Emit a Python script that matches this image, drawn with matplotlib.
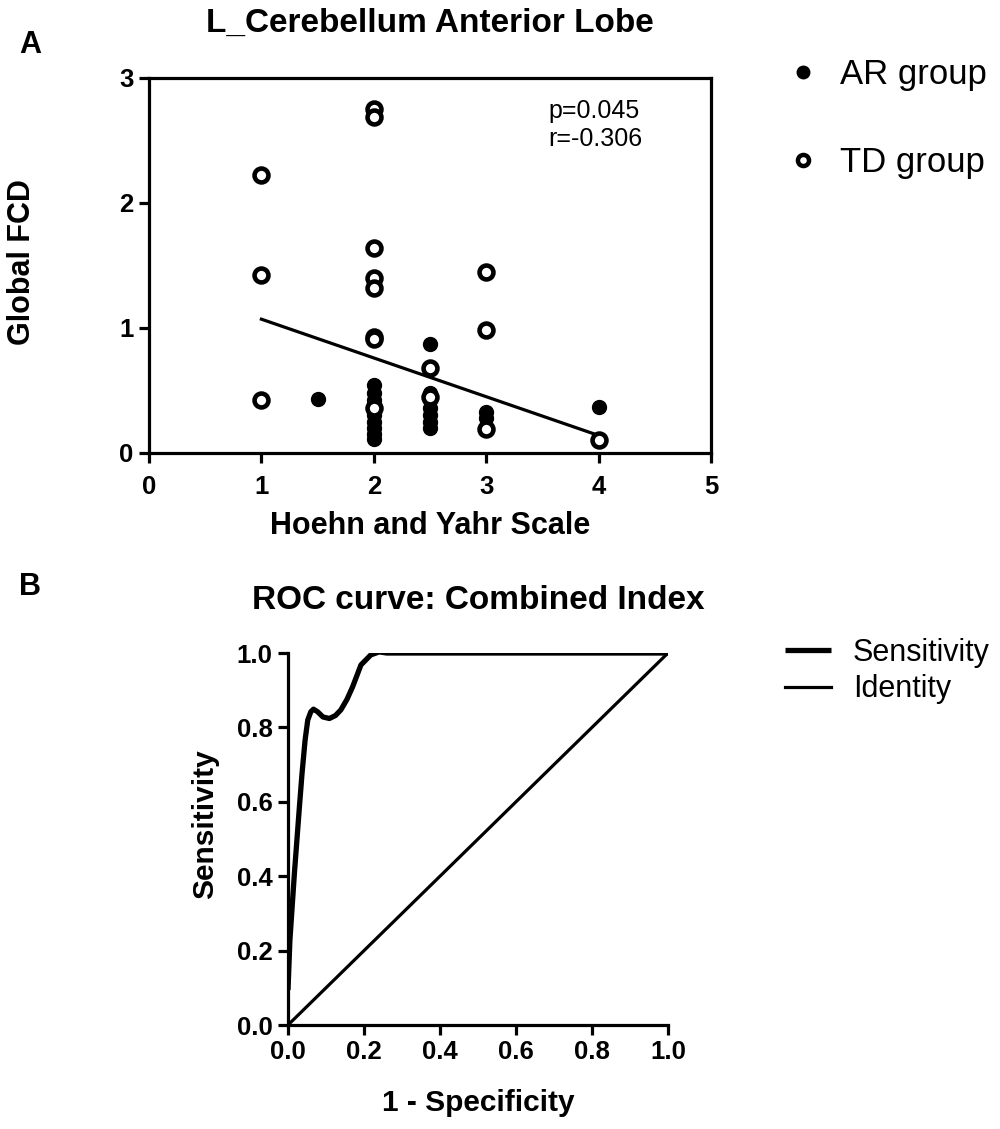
import numpy as np
import matplotlib
matplotlib.use("Agg")
import matplotlib.pyplot as plt
from matplotlib.lines import Line2D

plt.rcParams['font.family'] = ['Liberation Sans', 'DejaVu Sans']

# panel A data: Hoehn and Yahr stage vs global FCD
ar_hy = [1.5, 2, 2, 2, 2, 2, 2, 2, 2, 2,
         2.5, 2.5, 2.5, 2.5, 2.5, 2.5, 2.5, 3, 3, 4]
ar_fcd = [0.43, 0.54, 0.48, 0.42, 0.38, 0.30, 0.25, 0.20, 0.15, 0.11,
          0.87, 0.48, 0.42, 0.36, 0.30, 0.25, 0.20, 0.33, 0.28, 0.37]
td_hy = [1, 1, 1, 2, 2, 2, 2, 2, 2, 2, 2, 2.5, 2.5, 3, 3, 3, 4]
td_fcd = [2.22, 1.42, 0.42, 2.75, 2.69, 1.64, 1.40, 1.32, 0.93, 0.91, 0.36,
          0.68, 0.45, 1.45, 0.98, 0.19, 0.10]
fit_slope = -0.31
fit_intercept = 1.38
fit_range = [1, 4]
p_text = "p=0.045"
r_text = "r=-0.306"

# panel B data: ROC curve
fpr = [0.0, 0.005, 0.017, 0.030, 0.037, 0.045, 0.052, 0.060, 0.067, 0.078,
       0.092, 0.109, 0.125, 0.139, 0.155, 0.170, 0.192, 0.218, 0.240, 0.26,
       0.30, 1.0]
sens = [0.094, 0.228, 0.41, 0.586, 0.677, 0.766, 0.82, 0.842, 0.849, 0.842,
        0.828, 0.824, 0.832, 0.847, 0.875, 0.909, 0.968, 0.995, 1.003, 1.0,
        1.0, 1.0]
identity = [0.0, 1.0]
roc_ticks = [0.0, 0.2, 0.4, 0.6, 0.8, 1.0]

fig = plt.figure(figsize=(10, 11.29), dpi=100)

# ---- panel A
ax = fig.add_axes([0.149, 0.5988, 0.562, 0.3322])
ax.plot(ar_hy, ar_fcd, 'o', color='black', ms=10, zorder=3)
ax.plot(td_hy, td_fcd, 'o', mfc='white', mec='black', mew=3.3, ms=10, zorder=4)
xf = np.array(fit_range)
ax.plot(xf, fit_intercept + fit_slope * xf, color='black', lw=2.3, zorder=2)
ax.set_xlim(0, 5)
ax.set_ylim(0, 3)
ax.set_xticks([0, 1, 2, 3, 4, 5])
ax.set_yticks([0, 1, 2, 3])
for s in ax.spines.values():
    s.set_linewidth(2.3)
ax.tick_params(direction='out', length=7, width=2.3, labelsize=18.5)
ax.tick_params(axis='x', pad=9)
ax.tick_params(axis='y', pad=4)
for lab in ax.get_xticklabels() + ax.get_yticklabels():
    lab.set_fontweight('bold')
ax.set_xlabel("Hoehn and Yahr Scale", fontsize=22, fontweight='bold')
ax.xaxis.set_label_coords(0.5, -0.155)
ax.set_ylabel("Global FCD", fontsize=22, fontweight='bold')
ax.yaxis.set_label_coords(-0.199, 0.51)
ax.set_title("L_Cerebellum Anterior Lobe", fontsize=24, fontweight='bold', pad=33)
ax.text(0.71, 0.875, p_text + "\n" + r_text, transform=ax.transAxes,
        fontsize=18, va='center', ha='left', linespacing=1.2)
handles = [Line2D([], [], ls='', marker='o', color='black', ms=9),
           Line2D([], [], ls='', marker='o', mfc='white', mec='black', mew=3.2, ms=8)]
fig.legend(handles, ["AR group", "TD group"], loc='upper left',
           bbox_to_anchor=(0.768, 0.961), borderaxespad=0, frameon=False,
           fontsize=25, labelspacing=1.6, handletextpad=0.47, handlelength=1.2)
fig.text(0.03, 0.96, "A", fontsize=22, fontweight='bold', va='center', ha='center')

# ---- panel B
bx = fig.add_axes([0.288, 0.0921, 0.380, 0.3295])
bx.plot(fpr, sens, color='black', lw=3.8, solid_capstyle='butt', label="Sensitivity")
bx.plot(identity, identity, color='black', lw=2.3, label="Identity")
bx.set_xlim(0, 1)
bx.set_ylim(0, 1)
bx.set_xticks(roc_ticks)
bx.set_yticks(roc_ticks)
bx.set_xticklabels(["%.1f" % t for t in roc_ticks])
bx.set_yticklabels(["%.1f" % t for t in roc_ticks])
bx.spines['top'].set_visible(False)
bx.spines['right'].set_visible(False)
for s in ['left', 'bottom']:
    bx.spines[s].set_linewidth(2.3)
bx.tick_params(direction='out', length=7, width=2.3, labelsize=18.5, pad=4)
for lab in bx.get_xticklabels() + bx.get_yticklabels():
    lab.set_fontweight('bold')
bx.set_xlabel("1 - Specificity", fontsize=21.5, fontweight='bold')
bx.xaxis.set_label_coords(0.5, -0.172)
bx.set_ylabel("Sensitivity", fontsize=21.5, fontweight='bold')
bx.yaxis.set_label_coords(-0.182, 0.54)
bx.set_title("ROC curve: Combined Index", fontsize=24, fontweight='bold', pad=32)
fig.legend(handles=bx.get_lines(), loc='upper left', bbox_to_anchor=(0.773, 0.446),
           borderaxespad=0, frameon=False, fontsize=22, labelspacing=0.22,
           handlelength=1.5, handletextpad=0.72)
fig.text(0.03, 0.48, "B", fontsize=22, fontweight='bold', va='center', ha='center')

fig.savefig("out.png", dpi=100)
